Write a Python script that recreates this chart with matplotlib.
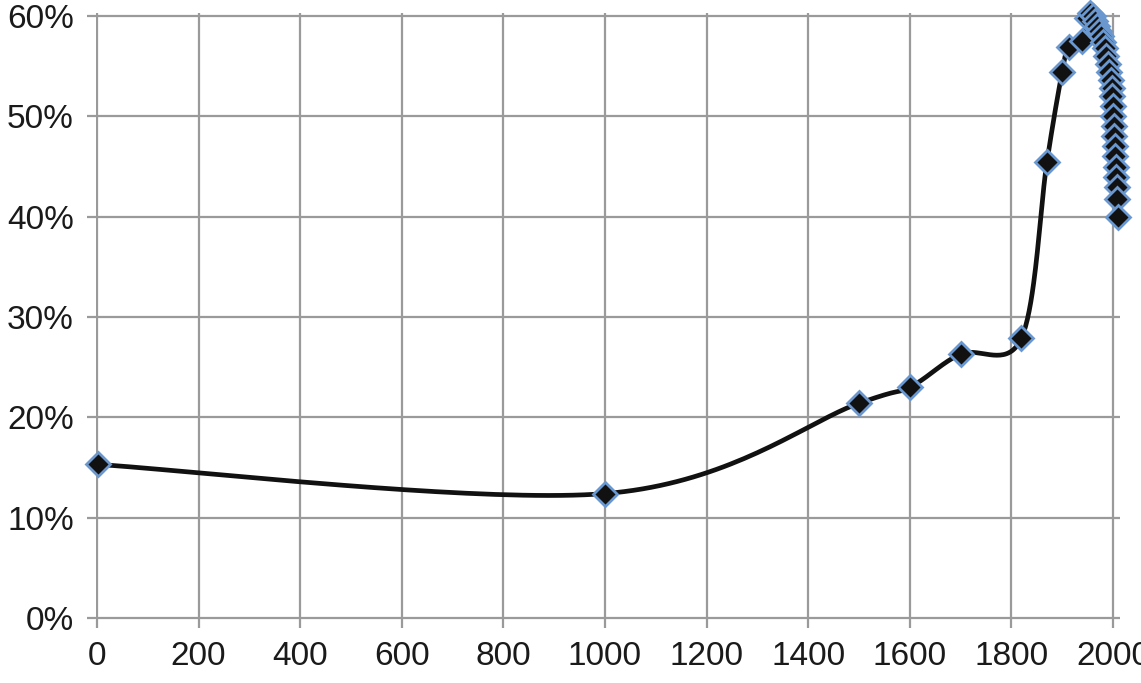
import numpy as np
import matplotlib
matplotlib.use("Agg")
import matplotlib.pyplot as plt
from matplotlib.ticker import PercentFormatter

# ---- data ----
years = [1, 1000, 1500, 1600, 1700, 1820, 1870, 1900, 1913, 1940, 1950, 1955,
         1960, 1964, 1968, 1972, 1976, 1980, 1984, 1987, 1990, 1993, 1996,
         1998, 1999, 2000, 2001, 2002, 2003, 2004, 2005, 2006, 2007, 2008,
         2009, 2010]
share_pct = [15.3, 12.4, 21.4, 23.0, 26.3, 27.9, 45.4, 54.4, 56.9, 57.5, 59.8, 60.3,
             60.0, 59.5, 59.0, 58.5, 58.0, 57.4, 56.8, 56.0, 55.2, 54.4, 53.6,
             52.8, 52.0, 51.0, 50.0, 49.0, 48.0, 47.0, 46.0, 45.0, 44.0, 43.0,
             41.8, 40.0]
x_ticks = [0, 200, 400, 600, 800, 1000, 1200, 1400, 1600, 1800, 2000]
y_ticks = [0, 10, 20, 30, 40, 50, 60]


def smooth_curve(xs, ys, n=40):
    """Excel-like smoothed line: Catmull-Rom style cubic Bezier segments."""
    P = np.column_stack([xs, ys]).astype(float)
    out = [P[0:1]]
    t = np.linspace(0, 1, n)[1:, None]
    for i in range(len(P) - 1):
        p0 = P[i]
        p3 = P[i + 1]
        prev = P[i - 1] if i > 0 else P[i]
        nxt = P[i + 2] if i + 2 < len(P) else P[i + 1]
        c1 = p0 + (p3 - prev) / 6.0
        c2 = p3 - (nxt - p0) / 6.0
        seg = ((1 - t) ** 3) * p0 + 3 * ((1 - t) ** 2) * t * c1 + 3 * (1 - t) * t ** 2 * c2 + t ** 3 * p3
        out.append(seg)
    C = np.vstack(out)
    return C[:, 0], C[:, 1]


W, H = 1141, 683
fig = plt.figure(figsize=(W / 100, H / 100), dpi=100)

# axes placement in pixels
x_lo, x_hi = -3, 2014
y_lo, y_hi = -0.2, 60.3
px_left, px_right = 95.5, 1120
px_bottom, px_top = 620, 13
ax = fig.add_axes([px_left / W, 1 - px_bottom / H,
                   (px_right - px_left) / W, (px_bottom - px_top) / H])
ax.set_xlim(x_lo, x_hi)
ax.set_ylim(y_lo, y_hi)

grid_col = "#9a9a9a"
ax.set_xticks(x_ticks)
ax.set_yticks(y_ticks)
ax.grid(True, color=grid_col, linewidth=1.6)
ax.set_axisbelow(True)
for s in ax.spines.values():
    s.set_visible(False)

ax.yaxis.set_major_formatter(PercentFormatter(xmax=100, decimals=0))
ax.tick_params(axis="both", colors=grid_col, width=1.6, labelcolor="#1a1a1a",
               labelsize=24)
ax.tick_params(axis="y", length=6.5, pad=9)
ax.tick_params(axis="x", length=6, pad=9)
for lab in ax.get_xticklabels() + ax.get_yticklabels():
    lab.set_fontfamily(["Liberation Sans", "DejaVu Sans"])

cx, cy = smooth_curve(years, share_pct)
ax.plot(cx, cy, color="#111111", linewidth=3.4, solid_capstyle="round",
        zorder=3, clip_on=False)
ax.plot(years, share_pct, linestyle="none", marker="D", markersize=12,
        markerfacecolor="#111111", markeredgecolor="#6b97cf",
        markeredgewidth=2.0, zorder=4, clip_on=False)

fig.savefig("out.png", dpi=100)
